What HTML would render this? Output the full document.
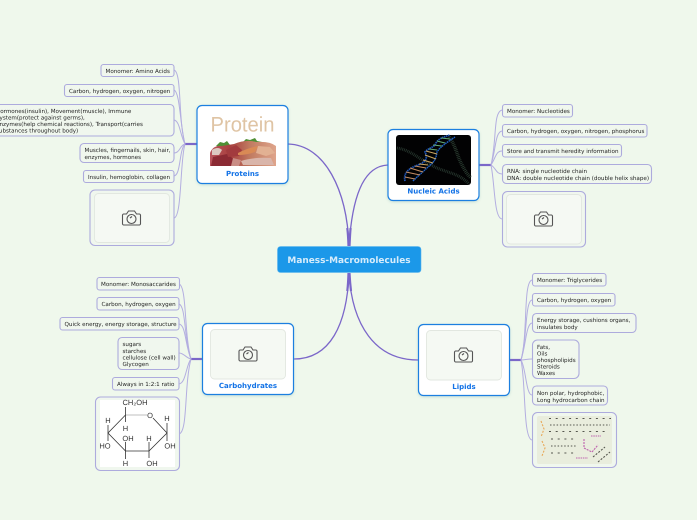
<!DOCTYPE html>
<html><head><meta charset="utf-8"><style>
html,body{margin:0;padding:0;background:#eff8ec;overflow:hidden}
svg{display:block;text-rendering:geometricPrecision;filter:blur(.3px)}
text{font-family:"DejaVu Sans",sans-serif}
.l{fill:none;stroke:#b3aee0;stroke-width:1}
.m{fill:none;stroke:#7b67c9;stroke-width:1.300}
.k{fill:none;stroke:#7b67c9;stroke-width:2.200}
.b{fill:#f0f7ee;stroke:#adabdd;stroke-width:1.100}
.t{font-size:5.600px;fill:#222}
.n{fill:#fff;stroke:#1a7fe0;stroke-width:1.200}
.h{font-size:7px;font-weight:bold;fill:#1272e6;text-anchor:middle}
.i{fill:#f5f9f3;stroke:#e2e7e0;stroke-width:.9}
.c{font-family:"Liberation Sans",sans-serif;font-size:7.500px;fill:#333;text-anchor:middle}
</style></head><body>
<svg width="697" height="520" viewBox="0 0 697 520" xmlns="http://www.w3.org/2000/svg">
<defs>
<g id="cam" fill="none" stroke="#555" stroke-width="1.100"><path d="M-8-4h3l2-3h6l2 3h3a1.500 1.500 0 0 1 1 1v9a1.500 1.500 0 0 1-1 1h-16a1.500 1.500 0 0 1-1-1v-9a1.500 1.500 0 0 1 1-1z"/><circle cx="0" cy="1" r="4.500"/><path d="M-1.500 0l2-1.500"/></g>
<filter id="sh" x="-10%" y="-10%" width="120%" height="125%"><feDropShadow dx="0" dy="1" stdDeviation="1.200" flood-color="#6aa" flood-opacity=".3"/></filter>
<linearGradient id="mt" x1="0" x2="1" y1="0" y2="0"><stop offset="0" stop-color="#b9555c"/><stop offset=".3" stop-color="#a8403f"/><stop offset=".6" stop-color="#c07a60"/><stop offset="1" stop-color="#dfa58c"/></linearGradient>
</defs>

<!-- main connectors -->
<path class="m" d="M349 246C347 190 325 145 288 144"/>
<path class="m" d="M349 246C352 200 362 166 388 165"/>
<path class="m" d="M349 273C347 325 330 359 294 359"/>
<path class="m" d="M349 273C352 325 375 360 418 360"/>
<path class="k" d="M348.500 246C348.300 240 348 234 347.300 228M349.500 246C349.800 240 350 234 350.600 228M348.500 273C348.300 279 348 285 347.300 291M349.500 273C349.800 279 350.300 285 351 291"/>

<!-- protein leaf connectors -->
<path class="k" d="M185 144h12"/>
<g class="l">
<path d="M185 144C178 120 182 72 174 70"/><path d="M185 144C180 125 180 92 174 90"/><path d="M185 144C180 135 180 121 174 120"/>
<path d="M185 144C180 145 180 153 174 153"/><path d="M185 144C179 150 181 175 174 176"/><path d="M185 144C180 160 182 217 174 218"/>
</g>
<!-- nucleic leaf connectors -->
<path class="k" d="M479 165h12"/>
<g class="l">
<path d="M491 165C497 140 493 112 502 110"/><path d="M491 165C496 150 495 132 502 131"/><path d="M491 165C496 157 496 151 502 151"/>
<path d="M491 165C496 168 496 174 502 174"/><path d="M491 165C495 185 494 218 502 219"/>
</g>
<!-- carb connectors -->
<path class="k" d="M191 359h11"/>
<g class="l">
<path d="M191 359C184 335 187 286 179 284"/><path d="M191 359C184 340 186 306 179 304"/><path d="M191 359C185 345 186 325 179 324"/>
<path d="M191 359C186 358 184 353 179 353"/><path d="M191 359C186 365 186 383 179 384"/><path d="M191 359C184 385 188 432 179 434"/>
</g>
<!-- lipid connectors -->
<path class="k" d="M510 360h11"/>
<g class="l">
<path d="M521 360C528 335 523 282 532 280"/><path d="M521 360C527 340 525 301 532 300"/><path d="M521 360C526 345 526 324 532 323"/>
<path d="M521 360C525 360 527 359 532 359"/><path d="M521 360C526 368 526 395 532 395"/><path d="M521 360C526 385 523 438 532 440"/>
</g>

<!-- center -->
<rect x="277.500" y="246.500" width="143.500" height="26" rx="3" fill="#1b98e9" stroke="#5cb5ee" stroke-width=".6"/>
<text x="349" y="263" text-anchor="middle" style="font-size:8.950px;font-weight:bold;fill:#d6ecfb">Maness-Macromolecules</text>

<!-- Proteins -->
<rect class="n" x="197" y="105.500" width="91" height="78" rx="5" filter="url(#sh)"/>
<text x="242.500" y="131.500" text-anchor="middle" textLength="64" lengthAdjust="spacingAndGlyphs" style="font-family:'Liberation Sans',sans-serif;font-size:21px;fill:#dfc4a4">Protein</text>
<path d="M216 146l4-4 4 1 3-2 3 4-4 4zM240 144l4-3 2-2 4 1 5-2 2 3 5 1-3 4-12 2z" fill="#4f8f35"/>
<path d="M210 166v-13q3-8 12-7l12-2q12-5 22-2q14-1 20 4v20z" fill="url(#mt)"/>
<path d="M211 166l2-9 14-3 8 6-2 6z" fill="#8b2a33"/><path d="M226 150l10-5 6 5-3 6-11 1z" fill="#a23b3e"/><path d="M238 153q10-5 20-7l-3 6q-8 3-17 3z" fill="#d98a55"/><path d="M241 161q12-4 30-3l3 7h-31z" fill="#d9b5aa"/><path d="M212 150q6-4 10 0l-3 5h-7z" fill="#dcc8c0"/><path d="M258 146l12 1 5 6-9 3-10-3z" fill="#e2b193"/><path d="M233 158l8 2-2 6h-8z" fill="#c98d85"/>
<text class="h" x="242.500" y="176">Proteins</text>
<rect class="b" x="101" y="64.500" width="73" height="12" rx="2.500"/><text class="t" x="105.500" y="73">Monomer: Amino Acids</text>
<rect class="b" x="64.500" y="84.500" width="109.500" height="12" rx="2.500"/><text class="t" x="69" y="93">Carbon, hydrogen, oxygen, nitrogen</text>
<rect class="b" x="-6" y="104.500" width="180" height="31.500" rx="4"/>
<text class="t" x="-4" y="113">Hormones(insulin), Movement(muscle), Immune</text><text class="t" x="-4" y="119.500">System(protect against germs),</text><text class="t" x="-4" y="126">Enzymes(help chemical reactions), Transport(carries</text><text class="t" x="-4" y="132.500">substances throughout body)</text>
<rect class="b" x="80" y="143.500" width="94" height="19" rx="4"/><text class="t" x="84.500" y="152">Muscles, fingernails, skin, hair,</text><text class="t" x="84.500" y="159">enzymes, hormones</text>
<rect class="b" x="83.500" y="170.500" width="90.500" height="12" rx="2.500"/><text class="t" x="88" y="179">Insulin, hemoglobin, collagen</text>
<rect class="b" x="90" y="190" width="84" height="55.500" rx="5"/><rect class="i" x="94.500" y="193.500" width="75" height="49" rx="4"/><use href="#cam" x="131.500" y="218"/>

<!-- Nucleic -->
<rect class="n" x="388" y="129.500" width="91" height="71" rx="5" filter="url(#sh)"/>
<rect x="396" y="135" width="75" height="50" rx="3" fill="#020203"/>
<g fill="none">
<path d="M397 148C410 150 418 158 431 165C445 173 458 172 469 184" stroke="#26352d" stroke-width="3" stroke-dasharray=".9 .9"/>
<path d="M449 137C456 146 457 156 462 165C465 171 468 175 471 178" stroke="#2a3b30" stroke-width="3.500" stroke-dasharray=".9 .9"/>
<path d="M405 181C403 172 410 168 418 165C426 162 428 158 425 152C428 148 434 148 436 143C439 138 444 137 450 135" stroke="#1f55b8" stroke-width="1.800" stroke-dasharray="1.500 .6"/>
<path d="M413 181C420 174 424 171 428 167C433 163 436 160 437 152C440 147 446 143 455 137" stroke="#1f62c6" stroke-width="1.500" stroke-dasharray="1.500 .6"/>
<g stroke-width="1.100">
<path d="M405 177l10 2M406 172l14 3M410 168l13 4M415 166l11 2" stroke="#c68d62"/>
<path d="M419 164l9 1M423 160l10 3M425 155l11 4M426 151l11 3" stroke="#c9a561"/>
<path d="M429 149l8 1M433 145l9 1M437 141l8 2M441 138l9 1" stroke="#63ab74"/>
</g>
</g>
<text class="h" x="433.500" y="193.500">Nucleic Acids</text>
<rect class="b" x="502.500" y="104.500" width="70" height="12.500" rx="2.500"/><text class="t" x="507" y="113">Monomer: Nucleotides</text>
<rect class="b" x="502.500" y="124.500" width="144.500" height="12.500" rx="2.500"/><text class="t" x="507" y="133">Carbon, hydrogen, oxygen, nitrogen, phosphorus</text>
<rect class="b" x="502.500" y="144.500" width="119" height="12.500" rx="2.500"/><text class="t" x="507" y="153">Store and transmit heredity information</text>
<rect class="b" x="502.500" y="164.500" width="149" height="19" rx="4"/><text class="t" x="507" y="173">RNA: single nucleotide chain</text><text class="t" x="507" y="180">DNA: double nucleotide chain (double helix shape)</text>
<rect class="b" x="502.500" y="191.500" width="83" height="55.500" rx="5"/><rect class="i" x="506.500" y="194.500" width="75" height="49.500" rx="4"/><use href="#cam" x="543.500" y="219"/>

<!-- Carbohydrates -->
<rect class="n" x="202.500" y="323.500" width="91" height="71" rx="5" filter="url(#sh)"/>
<rect class="i" x="210.500" y="329.500" width="75" height="49.500" rx="4"/><use href="#cam" x="248" y="354"/>
<text class="h" x="248" y="388">Carbohydrates</text>
<rect class="b" x="97" y="277.500" width="82.500" height="12.500" rx="2.500"/><text class="t" x="101" y="286">Monomer: Monosaccarides</text>
<rect class="b" x="97" y="297.500" width="82" height="12.500" rx="2.500"/><text class="t" x="101.500" y="306">Carbon, hydrogen, oxygen</text>
<rect class="b" x="60" y="317.500" width="119" height="12.500" rx="2.500"/><text class="t" x="64.500" y="326">Quick energy, energy storage, structure</text>
<rect class="b" x="118" y="337.500" width="61" height="32" rx="4"/><text class="t" x="122.500" y="346">sugars</text><text class="t" x="122.500" y="353">starches</text><text class="t" x="122.500" y="359.500">cellulose (cell wall)</text><text class="t" x="122.500" y="366">Glycogen</text>
<rect class="b" x="112.500" y="377.500" width="66.500" height="12.500" rx="2.500"/><text class="t" x="117" y="386">Always in 1:2:1 ratio</text>
<rect class="b" x="95.500" y="397" width="84" height="73.500" rx="5"/><rect x="100" y="400" width="75" height="67" fill="#fff"/>
<g stroke="#333" stroke-width=".8" fill="none"><path d="M125.500 415L108 433L125.500 451H149L167 433L153 418"/><path d="M125.500 415H147" stroke="#aaa"/><path d="M125.500 407v8M125.500 415v7M108 425v8M108 433v8M125.500 442v9M125.500 451v8M149 442v9M149 451v7M167 423v10M167 433v8"/></g>
<text class="c" x="135" y="405">CH₂OH</text><text class="c" x="150" y="418">O</text><text class="c" x="108" y="423">H</text><text class="c" x="105" y="448.500">HO</text><text class="c" x="125.500" y="431">H</text><text class="c" x="128" y="441">OH</text><text class="c" x="149" y="441">H</text><text class="c" x="167" y="421">H</text><text class="c" x="170" y="448.500">OH</text><text class="c" x="125.500" y="466">H</text><text class="c" x="152" y="466">OH</text>

<!-- Lipids -->
<rect class="n" x="418.500" y="324.500" width="91" height="71" rx="5" filter="url(#sh)"/>
<rect class="i" x="426.500" y="330.500" width="75" height="49.500" rx="4"/><use href="#cam" x="463.500" y="355"/>
<text class="h" x="464" y="389">Lipids</text>
<rect class="b" x="532.500" y="273.500" width="73.500" height="12.500" rx="2.500"/><text class="t" x="537" y="282">Monomer: Triglycerides</text>
<rect class="b" x="532.500" y="293.500" width="82.500" height="12.500" rx="2.500"/><text class="t" x="537" y="302">Carbon, hydrogen, oxygen</text>
<rect class="b" x="532.500" y="313.500" width="103.500" height="19" rx="4"/><text class="t" x="537" y="322">Energy storage, cushions organs,</text><text class="t" x="537" y="329">insulates body</text>
<rect class="b" x="532.500" y="340" width="46.500" height="38.500" rx="5"/><text class="t" x="537" y="349">Fats,</text><text class="t" x="537" y="355.500">Oils</text><text class="t" x="537" y="362">phospholipids</text><text class="t" x="537" y="368.500">Steroids</text><text class="t" x="537" y="375">Waxes</text>
<rect class="b" x="532.500" y="386" width="75" height="19" rx="4"/><text class="t" x="537" y="395">Non polar, hydrophobic,</text><text class="t" x="537" y="402">Long hydrocarbon chain</text>
<rect class="b" x="532.500" y="412.500" width="84" height="55" rx="5"/><rect x="537" y="416" width="75" height="48" rx="2" fill="#e9eddd"/>
<g fill="none" stroke="#55564e" stroke-width="1.100">
<path d="M549 418.500h62M549 431.500h60" stroke-dasharray="2 4.700"/><path d="M550 425h60" stroke-dasharray="1.500 1.800"/>
<path d="M551 439h26M551 453h26" stroke-dasharray="2 4.700"/><path d="M551 446h26" stroke-dasharray="1.500 1.800"/><path d="M593 457l12-10M598 462l12-10" stroke-dasharray="2 1.500"/>
<path d="M541 421l3 8-3 8M542 441l3 7-3 8" stroke="#e8a858" stroke-dasharray="2 1.500"/><path d="M584 439v9l8 4l6-7" stroke="#bd62ae" stroke-dasharray="2 1"/><path d="M591 436h10M576 458h12" stroke="#bd62ae" stroke-dasharray="1.500 .8"/>
</g>
</svg>
</body></html>
